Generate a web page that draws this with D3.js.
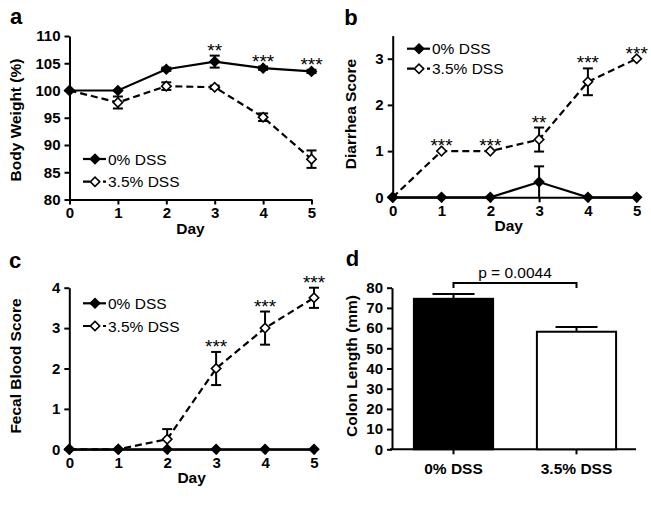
<!DOCTYPE html>
<html>
<head>
<meta charset="utf-8">
<script src="https://cdn.jsdelivr.net/npm/d3@7"></script>
<style>
  body { margin: 0; background: #fff; }
  text { font-family: "Liberation Sans", Arial, sans-serif; fill: #000; }
</style>
</head>
<body>
<div id="fig"></div>
<script>
// ---- data ----
const days = [0, 1, 2, 3, 4, 5];
const groups = ["0% DSS", "3.5% DSS"];

const weightCtrl = [100, 100, 103.9, 105.3, 104.1, 103.5];
const weightCtrlErr = [0, 0, 0.3, 1.1, 0.3, 0.3];
const weightDss = [100, 97.8, 100.8, 100.6, 95.1, 87.4];
const weightDssErr = [0, 1.1, 0.7, 0.3, 0.7, 1.6];
const weightStars = ["", "", "", "**", "***", "***"];
const weightTicks = [80, 85, 90, 95, 100, 105, 110];

const diarrheaCtrl = [0, 0, 0, 0.33, 0, 0];
const diarrheaCtrlErr = [0, 0, 0, 0.34, 0, 0];
const diarrheaDss = [0, 1, 1, 1.25, 2.5, 3];
const diarrheaDssErr = [0, 0, 0, 0.26, 0.29, 0];
const diarrheaStars = ["", "***", "***", "**", "***", "***"];
const diarrheaTicks = [0, 1, 2, 3];

const bloodCtrl = [0, 0, 0, 0, 0, 0];
const bloodCtrlErr = [0, 0, 0, 0, 0, 0];
const bloodDss = [0, 0, 0.25, 2, 3, 3.75];
const bloodDssErr = [0, 0, 0.25, 0.41, 0.41, 0.25];
const bloodStars = ["", "", "", "***", "***", "***"];
const bloodTicks = [0, 1, 2, 3, 4];

const colonMean = [74.5, 58.2];
const colonErr = [2.4, 2.3];
const colonTicks = [0, 10, 20, 30, 40, 50, 60, 70, 80];
const colonP = "p = 0.0044";

const svg = d3.select("#fig").append("svg")
    .attr("width", 651)
    .attr("height", 505);

const diamond = d3.symbol().type(d3.symbolSquare).size(44);
const intFmt = d3.format("d");

/**
 * Draws a left axis and a bottom axis with the figure's bold ticks.
 */
function drawAxes(x, y, yTicks, xAxis) {
    const gy = svg.append("g")
        .attr("transform", "translate(" + x.range()[0] + ",0)")
        .call(d3.axisLeft(y).tickValues(yTicks).tickFormat(intFmt)
            .tickSize(5).tickPadding(4).tickSizeOuter(0));
    const gx = svg.append("g")
        .attr("transform", "translate(0," + y.range()[0] + ")")
        .call(xAxis);
    [gx, gy].forEach(g => {
        g.selectAll("path, line").attr("stroke", "#000").attr("stroke-width", 2);
        g.selectAll("text")
            .style("font-family", "Liberation Sans, Arial, sans-serif")
            .style("font-weight", "bold")
            .style("font-size", "15px")
            .attr("fill", "#000");
    });
    return [gx, gy];
}

function yLabel(text, cx, cy) {
    svg.append("text")
        .attr("text-anchor", "middle")
        .attr("dominant-baseline", "central")
        .attr("transform", "translate(" + cx + "," + cy + ")rotate(-90)")
        .style("font-size", "15.5px")
        .style("font-weight", "bold")
        .text(text);
}

function panelLetter(letter, px, py) {
    svg.append("text")
        .attr("x", px).attr("y", py)
        .attr("text-anchor", "middle")
        .style("font-size", "22px")
        .style("font-weight", "bold")
        .text(letter);
}

/**
 * One line series with error bars and diamond markers.
 */
function drawSeries(x, y, values, errs, dashed, filled) {
    const pts = days.map((d, i) => ({ d: d, v: values[i], e: errs[i] }));
    svg.append("path")
        .datum(pts)
        .attr("fill", "none")
        .attr("stroke", "#000")
        .attr("stroke-width", 2.2)
        .attr("stroke-dasharray", dashed ? "7,4" : null)
        .attr("d", d3.line().x(p => x(p.d)).y(p => y(p.v)));

    const eb = svg.append("g").attr("stroke", "#000").attr("stroke-width", 2);
    pts.filter(p => p.e > 0).forEach(p => {
        const cx = x(p.d), top = y(p.v + p.e), bot = y(Math.max(p.v - p.e, y.domain()[0]));
        eb.append("line").attr("x1", cx).attr("x2", cx).attr("y1", top).attr("y2", bot);
        eb.append("line").attr("x1", cx - 5).attr("x2", cx + 5).attr("y1", top).attr("y2", top);
        if (p.v - p.e > y.domain()[0])
            eb.append("line").attr("x1", cx - 5).attr("x2", cx + 5).attr("y1", bot).attr("y2", bot);
    });

    svg.append("g").selectAll("path")
        .data(pts)
        .enter()
        .append("path")
        .attr("d", diamond)
        .attr("transform", p => "translate(" + x(p.d) + "," + y(p.v) + ")rotate(45)")
        .attr("fill", filled ? "#000" : "#fff")
        .attr("stroke", "#000")
        .attr("stroke-width", 1.6);
}

function drawStars(x, y, stars, tops) {
    svg.append("g").selectAll("text")
        .data(days.filter((d, i) => stars[i] !== ""))
        .enter()
        .append("text")
        .attr("x", d => x(d))
        .attr("y", d => y(tops[d]) + 1)
        .attr("text-anchor", "middle")
        .style("font-size", "19px")
        .text(d => stars[d]);
}

function drawLegend(x0, y0, gap) {
    groups.forEach((g, i) => {
        const yy = y0 + i * gap;
        svg.append("line")
            .attr("x1", x0).attr("x2", x0 + 23)
            .attr("y1", yy).attr("y2", yy)
            .attr("stroke", "#000").attr("stroke-width", 2.2)
            .attr("stroke-dasharray", i === 1 ? "7,3" : null);
        svg.append("path")
            .attr("d", diamond)
            .attr("transform", "translate(" + (x0 + 12) + "," + yy + ")rotate(45)")
            .attr("fill", i === 0 ? "#000" : "#fff")
            .attr("stroke", "#000").attr("stroke-width", 1.6);
        svg.append("text")
            .attr("x", x0 + 25).attr("y", yy + 5.5)
            .style("font-size", "15.5px")
            .text(g);
    });
}

/**
 * Draws one of the three time-course panels.
 */
function linePanel(cfg) {
    const x = d3.scaleLinear().domain([0, 5]).range(cfg.xr);
    const y = d3.scaleLinear().domain(cfg.yd).range(cfg.yr);
    drawAxes(x, y, cfg.ticks,
        d3.axisBottom(x).tickValues(days).tickFormat(intFmt)
            .tickSize(5).tickPadding(3).tickSizeOuter(0));
    const tops = days.map((d, i) => Math.max(cfg.ctrl[i] + cfg.ctrlErr[i], cfg.dss[i] + cfg.dssErr[i]));
    drawSeries(x, y, cfg.dss, cfg.dssErr, true, false);
    drawSeries(x, y, cfg.ctrl, cfg.ctrlErr, false, true);
    drawStars(x, y, cfg.stars, tops);
    drawLegend(cfg.legend[0], cfg.legend[1], cfg.legend[2]);
    svg.append("text")
        .attr("x", (cfg.xr[0] + cfg.xr[1]) / 2 + cfg.dayShift)
        .attr("y", cfg.yr[0] + 34)
        .attr("text-anchor", "middle")
        .style("font-size", "15.5px")
        .style("font-weight", "bold")
        .text("Day");
    yLabel(cfg.label, cfg.labelPos[0], cfg.labelPos[1]);
    panelLetter(cfg.letter, cfg.letterPos[0], cfg.letterPos[1]);
}

linePanel({
    xr: [69.5, 311.5], yd: [80, 110], yr: [199.5, 36], ticks: weightTicks,
    ctrl: weightCtrl, ctrlErr: weightCtrlErr, dss: weightDss, dssErr: weightDssErr,
    stars: weightStars, legend: [83, 159, 22.7], dayShift: 0,
    label: "Body Weight (%)", labelPos: [15.5, 120], letter: "a", letterPos: [16, 23.5]
});

linePanel({
    xr: [392.7, 636.7], yd: [0, 3.5], yr: [197.3, 35.6], ticks: diarrheaTicks,
    ctrl: diarrheaCtrl, ctrlErr: diarrheaCtrlErr, dss: diarrheaDss, dssErr: diarrheaDssErr,
    stars: diarrheaStars, legend: [407, 48.7, 20], dayShift: -6,
    label: "Diarrhea Score", labelPos: [350, 114], letter: "b", letterPos: [351, 25]
});

linePanel({
    xr: [69.3, 314], yd: [0, 4], yr: [449.3, 287.7], ticks: bloodTicks,
    ctrl: bloodCtrl, ctrlErr: bloodCtrlErr, dss: bloodDss, dssErr: bloodDssErr,
    stars: bloodStars, legend: [83, 303.3, 22.7], dayShift: 0,
    label: "Fecal Blood Score", labelPos: [15.5, 366], letter: "c", letterPos: [15, 268.3]
});

// ---- panel d: bar chart ----
function barPanel() {
    const x = d3.scaleBand().domain(groups).range([392, 638]).paddingInner(0.34).paddingOuter(0.17);
    const y = d3.scaleLinear().domain([0, 80]).range([449.3, 287.7]);
    const [gx] = drawAxes(x, y, colonTicks,
        d3.axisBottom(x).tickSize(5).tickPadding(9).tickSizeOuter(0));
    gx.select(".domain").attr("d", "M390,0H636");
    gx.selectAll("text").style("font-size", "15.5px");

    // error bars first (upper only)
    groups.forEach((g, i) => {
        const cx = x(g) + x.bandwidth() / 2, top = y(colonMean[i] + colonErr[i]);
        svg.append("line").attr("x1", cx).attr("x2", cx).attr("y1", y(colonMean[i])).attr("y2", top)
            .attr("stroke", "#000").attr("stroke-width", 2);
        svg.append("line").attr("x1", cx - 21).attr("x2", cx + 21).attr("y1", top).attr("y2", top)
            .attr("stroke", "#000").attr("stroke-width", 2);
    });

    svg.append("g").selectAll("rect")
        .data(groups)
        .enter()
        .append("rect")
        .attr("x", g => x(g) + 1)
        .attr("width", x.bandwidth() - 2)
        .attr("y", (g, i) => y(colonMean[i]))
        .attr("height", (g, i) => y(0) - y(colonMean[i]))
        .attr("fill", (g, i) => i === 0 ? "#000" : "#fff")
        .attr("stroke", "#000")
        .attr("stroke-width", 2);

    // significance bracket
    const bx0 = x(groups[0]) + x.bandwidth() / 2, bx1 = x(groups[1]) + x.bandwidth() / 2;
    const by = y(colonMean[0] + colonErr[0]) - 11;
    svg.append("path")
        .attr("d", "M" + bx0 + "," + (by + 5) + "V" + by + "H" + bx1 + "V" + (by + 5))
        .attr("fill", "none").attr("stroke", "#000").attr("stroke-width", 2);
    svg.append("text")
        .attr("x", (bx0 + bx1) / 2).attr("y", by - 4.5)
        .attr("text-anchor", "middle")
        .style("font-size", "15.5px")
        .text(colonP);

    yLabel("Colon Length (mm)", 351, 366);
    panelLetter("d", 352.5, 266);
}

barPanel();
</script>
</body>
</html>
